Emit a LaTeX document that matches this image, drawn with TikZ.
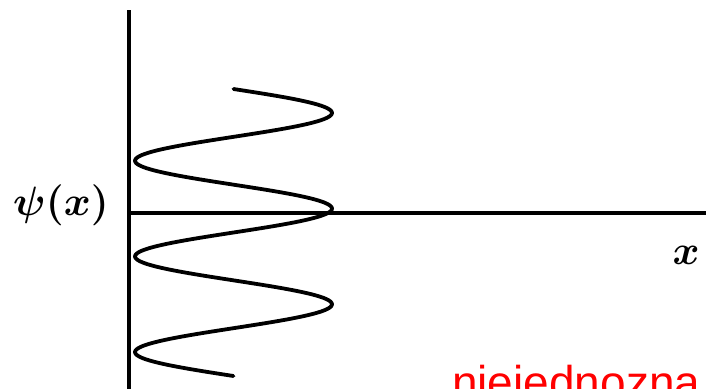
\RequirePackage{fix-cm}
\documentclass[tikz,border=0pt]{standalone}
\usepackage{fontspec}
\newfontfamily\notefont{Liberation Sans}
\begin{document}
\begin{tikzpicture}[x=1pt,y=-1pt,
  axis/.style={line width=3.2pt,black},
  wave/.style={line width=3.8pt,line cap=round,line join=round,black},
  lbl/.style={inner sep=0pt,font=\mathversion{bold}\fontsize{41}{48}\selectfont},
  note/.style={inner sep=0pt,text={rgb,255:red,255;green,0;blue,0},font=\notefont\fontsize{46}{50}\selectfont}]
\useasboundingbox (0,0) rectangle (706,388);
\fill[white] (0,0) rectangle (706,388);
\begin{scope}
\clip (0,0) rectangle (706,388);
\coordinate (vtop) at (129,10);
\coordinate (vbot) at (129,390);
\coordinate (origin) at (129,213);
\coordinate (hend) at (708,213);
\draw[axis] (vtop) -- (vbot);
\draw[axis] (origin) -- (hend);
\draw[wave] plot[domain=89:376,samples=240,variable=\t] ({233.5+98.5*sin(3.7629*(\t-89))},\t);
\node[lbl,anchor=base] (psi) at (61,215) {$\psi(x)$};
\node[lbl,anchor=base] (xl) at (686,264) {$x$};
\node[note,anchor=base west] (remark) at (452,398) {niejednozna};
\end{scope}
\end{tikzpicture}
\end{document}
